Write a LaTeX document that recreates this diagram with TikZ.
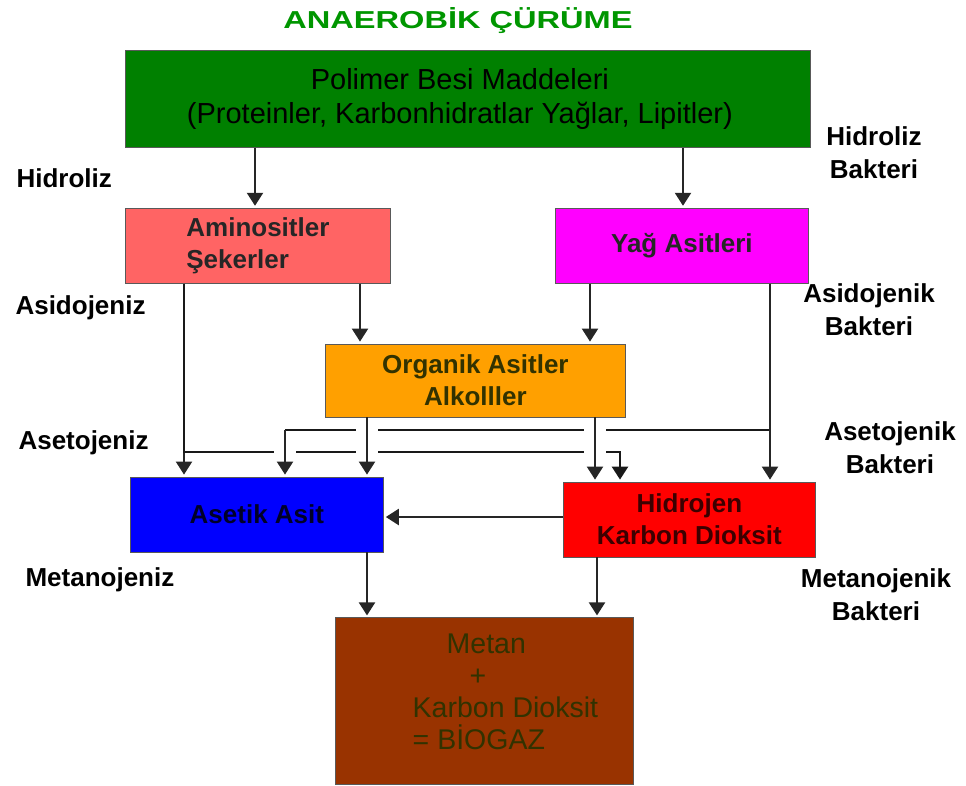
\documentclass[tikz,border=0pt]{standalone}
\usepackage{fontspec}
\setmainfont{Liberation Sans}
\newfontfamily\basfont[FakeStretch=1.33]{Liberation Sans}
\usetikzlibrary{arrows.meta,positioning}
\definecolor{yesil}{RGB}{0,128,0}
\definecolor{baslik}{RGB}{0,150,0}
\definecolor{pembe}{RGB}{255,100,100}
\definecolor{mor}{RGB}{255,0,255}
\definecolor{turuncu}{RGB}{255,160,0}
\definecolor{mavi}{RGB}{0,0,255}
\definecolor{kirmizi}{RGB}{255,0,0}
\definecolor{kahve}{RGB}{153,51,0}
\tikzset{
    %Define standard arrow tip
    >={Triangle[width=16pt,length=13pt]},
    ok/.style={
      ->,
      draw=black!85, line width=2.2pt,
      shorten >=2pt},
    hat/.style={
      draw=black!90, line width=2.6pt},
    atla/.style={
      preaction={draw=white, line width=22pt, -, shorten <=3pt}},
    kutu/.style={
      rectangle,
      draw=black!65, line width=0.8pt,
      fill=#1,
      inner sep=0pt,
      align=center,
      font=\fontsize{26}{32}\selectfont\bfseries},
    etiket/.style={
      align=center,
      font=\fontsize{26}{33}\selectfont\bfseries},
}
\begin{document}
\begin{tikzpicture}[x=1pt, y=-1pt]
    \useasboundingbox (0,0) rectangle (966,785);
    \node (baslik) [text=baslik, font=\fontsize{24.5}{30}\selectfont\bfseries\basfont]
          at (458,21) {ANAEROBİK ÇÜRÜME};
    % kutular
    \node (polimer) [kutu=yesil, anchor=north west, minimum width=685pt, minimum height=97pt,
          font=\fontsize{29}{34}\selectfont] at (125,50)
          {Polimer Besi Maddeleri\hspace*{16pt}\\(Proteinler, Karbonhidratlar Yağlar, Lipitler)\hspace*{16pt}};
    \node (aminosit) [kutu=pembe, minimum width=265pt, minimum height=75pt, align=left, text=black!85]
          [below right=60pt and 0pt of polimer.south west]
          {Aminositler\\Şekerler};
    \node (yag) [kutu=mor, minimum width=253pt, minimum height=75pt, text=black!85]
          [below left=60pt and 2pt of polimer.south east]
          {Yağ Asitleri};
    \node (organik) [kutu=turuncu, minimum width=300pt, minimum height=73pt, text={rgb,255:red,50;green,50;blue,0}]
          [below right=60pt and 200pt of aminosit.south west]
          {Organik Asitler\\Alkolller};
    \node (asetik) [kutu=mavi, minimum width=253pt, minimum height=75pt, text={rgb,255:red,0;green,0;blue,40}]
          [below right=193pt and 5pt of aminosit.south west]
          {Asetik Asit};
    \node (hidrojen) [kutu=kirmizi, minimum width=252pt, minimum height=75pt, text={rgb,255:red,60;green,0;blue,0}]
          [below right=198pt and 8pt of yag.south west]
          {Hidrojen\\Karbon Dioksit};
    \node (biyogaz) [kutu=kahve, minimum width=298pt, minimum height=167pt]
          [below right=65pt and 205pt of asetik.south west]
          {};
    \node (biyogazyazi) [align=left, text={rgb,255:red,50;green,50;blue,0},
          font=\fontsize{28.5}{32}\selectfont]
          at ([xshift=21pt, yshift=9pt]biyogaz.center)
          {\hspace*{34pt}Metan\\\hspace*{57pt}+\\Karbon Dioksit\\= BİOGAZ};
    % etiketler
    \node (hidroliz) [etiket, anchor=west] at (13,178) {Hidroliz};
    \node (asidojeniz) [etiket, anchor=west] at (12,308) {Asidojeniz};
    \node (asetojeniz) [etiket, anchor=west] at (15,443) {Asetojeniz};
    \node (metanojeniz) [etiket, anchor=west] at (22,580) {Metanojeniz};
    \node (hidrolizb) [etiket] at (874,153) {Hidroliz\\Bakteri};
    \node (asidojenikb) [etiket] at (869,310) {Asidojenik\\Bakteri};
    \node (asetojenikb) [etiket] at (890,448) {Asetojenik\\Bakteri};
    \node (metanojenikb) [etiket] at (876,595) {Metanojenik\\Bakteri};
    % oklar
    \coordinate (kirik1) at (285,430);
    \coordinate (kirik2) at (620,452);
    \draw [ok] (polimer.south -| 255,0) -- (aminosit.north -| 255,0);
    \draw [ok] (polimer.south -| 683,0) -- (yag.north -| 683,0);
    \draw [ok] (aminosit.south -| 184,0) -- (asetik.north -| 184,0);
    \draw [ok] (aminosit.south -| 360,0) -- (organik.north -| 360,0);
    \draw [ok] (yag.south -| 590,0) -- (organik.north -| 590,0);
    \draw [ok, hat] (aminosit.south -| 184,0) |- (kirik2) -- (hidrojen.north -| kirik2);
    \draw [hat] (yag.south -| 770,0) |- (kirik1);
    \draw [ok] (yag.south -| 770,0) -- (hidrojen.north -| 770,0);
    \draw [ok, atla] (kirik1) -- (asetik.north -| kirik1);
    \draw [ok, atla] (organik.south -| 367,0) -- (asetik.north -| 367,0);
    \draw [ok, atla] (organik.south -| 595,0) -- (hidrojen.north -| 595,0);
    \draw [ok] (hidrojen.west |- 0,517) -- (asetik.east |- 0,517);
    \draw [ok] (asetik.south -| 367,0) -- (biyogaz.north -| 367,0);
    \draw [ok] (hidrojen.south -| 597,0) -- (biyogaz.north -| 597,0);
\end{tikzpicture}
\end{document}
